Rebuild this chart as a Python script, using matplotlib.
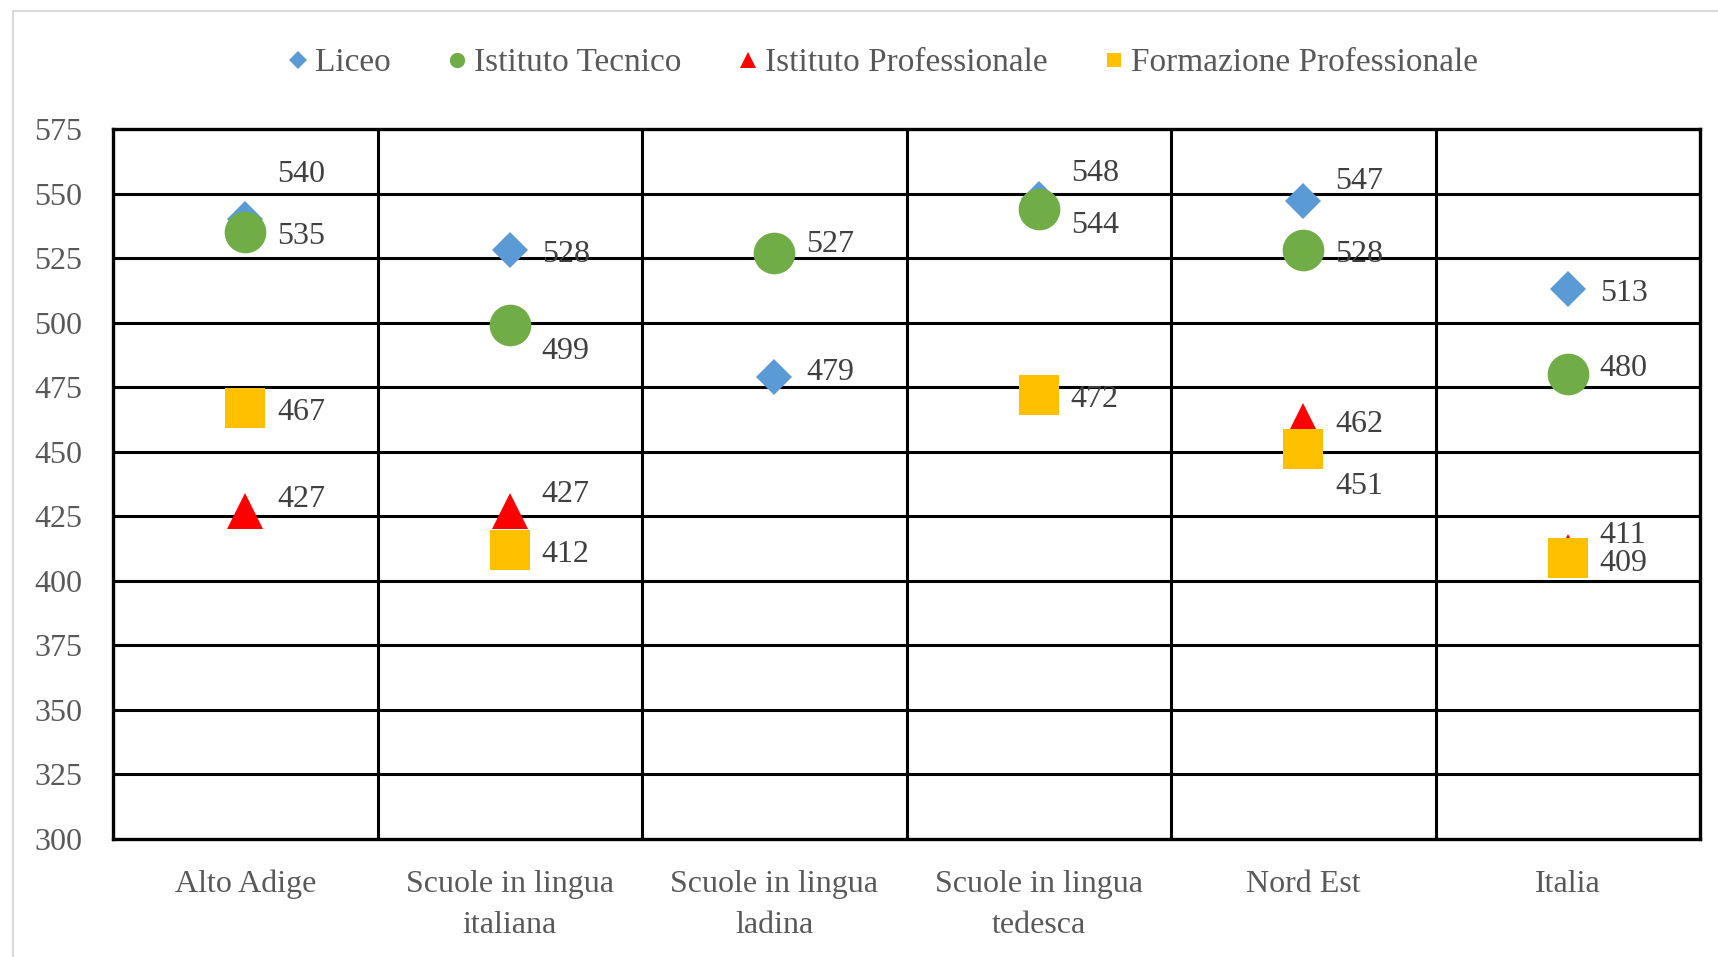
import numpy as np
import matplotlib
matplotlib.use("Agg")
import matplotlib.pyplot as plt
from matplotlib.patches import Rectangle

# data
categories = ["Alto Adige", "Scuole in lingua\nitaliana", "Scuole in lingua\nladina",
              "Scuole in lingua\ntedesca", "Nord Est", "Italia"]
liceo = [540, 528, 479, 548, 547, 513]
tecnico = [535, 499, 527, 544, 528, 480]
professionale = [427, 427, np.nan, np.nan, 462, 411]
formazione = [467, 412, np.nan, 472, 451, 409]

series_names = ["Liceo", "Istituto Tecnico", "Istituto Professionale", "Formazione Professionale"]

# label vertical nudges (points), as placed in the original chart
label_dy = {
    "Liceo": [35, 0, 6, 21, 17, 0],
    "Istituto Tecnico": [0, -16, 9, -9, 0, 7],
    "Istituto Professionale": [11, 15, 0, 0, 0, 15],
    "Formazione Professionale": [0, 0, 0, 0, -24, -1],
}

plt.rcParams['font.family'] = ['Liberation Serif', 'DejaVu Serif']
FS = 23

fig = plt.figure(figsize=(17.18, 9.57), dpi=100)
fig.patches.append(Rectangle((13 / 1718, -0.1), 1.2, 1 - 11 / 957 + 0.1,
                             transform=fig.transFigure, fill=False,
                             edgecolor="#D9D9D9", lw=1.5))

ax = fig.add_axes([113 / 1718, (957 - 839) / 957, (1700 - 113) / 1718, (839 - 129) / 957])

x = np.arange(len(categories))
styles = [
    ("Liceo", liceo, "D", "#5B9BD5", 18, 9),
    ("Istituto Tecnico", tecnico, "o", "#70AD47", 30, 11),
    ("Istituto Professionale", professionale, "^", "#FF0000", 26, 11),
    ("Formazione Professionale", formazione, "s", "#FFC000", 29, 10),
]

for name, vals, mk, col, ms, lms in styles:
    ax.plot(x, vals, linestyle="none", marker=mk, markersize=ms, color=col,
            markeredgewidth=0, zorder=3)
    for i, v in enumerate(vals):
        if np.isnan(v):
            continue
        ax.annotate(str(int(v)), (x[i], v), xytext=(23, label_dy[name][i] - 3),
                    textcoords="offset points", ha="left", va="center",
                    fontsize=FS, color="#404040", zorder=4)

ax.set_xlim(-0.5, len(categories) - 0.5)
ax.set_ylim(300, 575)
ax.set_yticks(np.arange(300, 576, 25))
ax.set_xticks(x)
ax.set_xticklabels(categories, linespacing=1.55)

for yv in np.arange(325, 575, 25):
    ax.axhline(yv, color="black", lw=2.2, zorder=1)
for xv in np.arange(0.5, len(categories) - 0.5, 1):
    ax.axvline(xv, color="black", lw=2.2, zorder=1)
for s in ax.spines.values():
    s.set_linewidth(2.4)
    s.set_color("black")

ax.tick_params(axis="both", length=0, labelsize=FS, labelcolor="#595959")
ax.tick_params(axis="y", pad=22)
ax.tick_params(axis="x", pad=22)

handles = []
for name, vals, mk, col, ms, lms in styles:
    h, = ax.plot([], [], linestyle="none", marker=mk, markersize=lms, color=col,
                 markeredgewidth=0)
    handles.append(h)
leg = fig.legend(handles, series_names, loc="center", bbox_to_anchor=(0.512, 0.934),
                 ncol=4, frameon=False, fontsize=FS + 1, handletextpad=0.0,
                 columnspacing=1.5, handlelength=1.0)
for t in leg.get_texts():
    t.set_color("#595959")

fig.savefig("out.png", dpi=100)
